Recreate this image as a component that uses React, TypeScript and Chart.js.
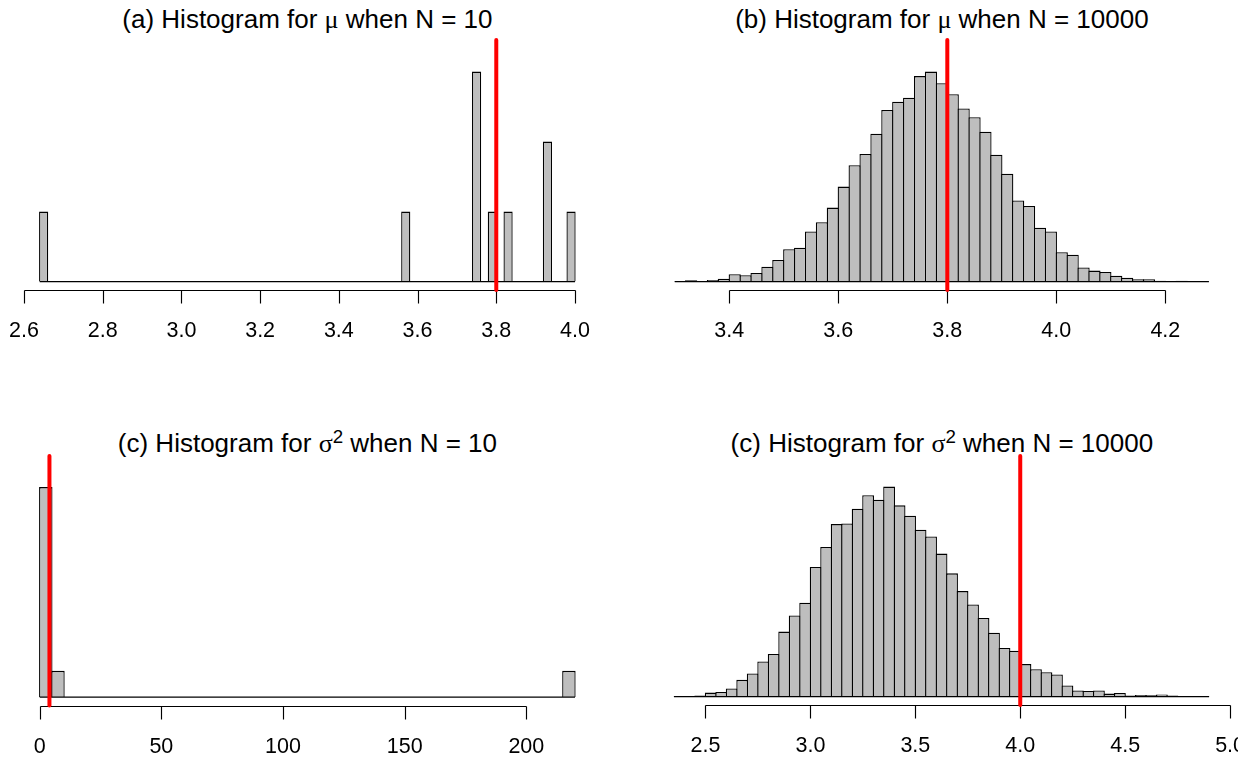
import React, { useEffect, useRef } from "react";
import { Chart, registerables } from "chart.js";

Chart.register(...registerables);

// ---------------- Data (counts) ----------------
// (a) mu, N = 10 : bins of width 0.02 starting at 2.64
const muN10BinStart = 2.64;
const muN10BinWidth = 0.02;
const muN10Counts = [
  1, 0, 0, 0, 0, 0, 0, 0, 0, 0, 0, 0, 0, 0, 0, 0, 0, 0, 0, 0, 0, 0, 0, 0, 0,
  0, 0, 0, 0, 0, 0, 0, 0, 0, 0, 0, 0, 0, 0, 0, 0, 0, 0, 0, 0, 0, 1, 0, 0, 0,
  0, 0, 0, 0, 0, 3, 0, 1, 0, 1, 0, 0, 0, 0, 2, 0, 0, 1,
];
const muN10Ticks = [2.6, 2.8, 3.0, 3.2, 3.4, 3.6, 3.8, 4.0];
const muN10TickLabels = ["2.6", "2.8", "3.0", "3.2", "3.4", "3.6", "3.8", "4.0"];
const muTrue = 3.8;

// (b) mu, N = 10000 : bins of width 0.02 starting at 3.30
const muN10000BinStart = 3.3;
const muN10000BinWidth = 0.02;
const muN10000Counts = [
  2, 4, 2, 5, 9, 23, 20, 27, 46, 67, 100, 105, 155, 184, 229, 294, 360, 395,
  458, 531, 557, 569, 636, 650, 614, 580, 536, 509, 464, 393, 334, 251, 234,
  167, 155, 91, 83, 44, 34, 30, 18, 12, 7, 7, 3, 2, 3, 1, 1,
];
const muN10000Ticks = [3.4, 3.6, 3.8, 4.0, 4.2];
const muN10000TickLabels = ["3.4", "3.6", "3.8", "4.0", "4.2"];

// (c) sigma^2, N = 10 : bins of width 5 starting at 0
const sigmaN10BinStart = 0;
const sigmaN10BinWidth = 5;
const sigmaN10Counts = [
  8, 1, 0, 0, 0, 0, 0, 0, 0, 0, 0, 0, 0, 0, 0, 0, 0, 0, 0, 0, 0, 0, 0, 0, 0,
  0, 0, 0, 0, 0, 0, 0, 0, 0, 0, 0, 0, 0, 0, 0, 0, 0, 0, 1,
];
const sigmaN10Ticks = [0, 50, 100, 150, 200];
const sigmaN10TickLabels = ["0", "50", "100", "150", "200"];
const sigmaTrue = 4;

// (d) sigma^2, N = 10000 : bins of width 0.05 starting at 2.35
const sigmaN10000BinStart = 2.35;
const sigmaN10000BinWidth = 0.05;
const sigmaN10000Counts = [
  2, 1, 3, 12, 14, 24, 50, 69, 105, 127, 194, 242, 280, 387, 447, 515, 517,
  561, 601, 588, 627, 571, 540, 498, 478, 427, 368, 315, 275, 235, 191, 145,
  137, 97, 82, 73, 66, 33, 18, 17, 18, 9, 11, 3, 5, 4, 6, 3, 2, 1, 1,
];
const sigmaN10000Ticks = [2.5, 3.0, 3.5, 4.0, 4.5, 5.0];
const sigmaN10000TickLabels = ["2.5", "3.0", "3.5", "4.0", "4.5", "5.0"];

// ---------------- Layout / style ----------------
const FONT = '"Liberation Sans", Arial, Helvetica, sans-serif';
const SYMBOL_FONT = '"Liberation Serif", "Times New Roman", serif';
const MAX_BAR_PX = 210;
const BORDER_W = 1.3;

type Rect = { left: number; top: number; width: number; height: number };
type Area = { left: number; right: number; top: number; bottom: number };

type Spec = {
  binStart: number;
  binWidth: number;
  counts: number[];
  ticks: number[];
  tickLabels: string[];
  trueValue: number;
  canvas: Rect;
  area: Area;
  labelClipRight?: number;
};

const rAxisPlugin = {
  id: "rAxis",
  beforeDatasetsDraw(chart: any, _args: any, opts: any) {
    const { ctx, chartArea, scales } = chart;
    const xs = scales.x;
    const ticks: number[] = opts.ticks;
    const labels: string[] = opts.labels;
    const y = Math.round(chartArea.bottom) + 0.5;
    ctx.save();
    ctx.strokeStyle = "#000";
    ctx.lineWidth = 1.15;
    ctx.beginPath();
    const p0 = Math.round(xs.getPixelForValue(ticks[0])) + 0.5;
    const p1 = Math.round(xs.getPixelForValue(ticks[ticks.length - 1])) + 0.5;
    ctx.moveTo(p0, y);
    ctx.lineTo(p1, y);
    for (const t of ticks) {
      const px = Math.round(xs.getPixelForValue(t)) + 0.5;
      ctx.moveTo(px, y);
      ctx.lineTo(px, y + 13);
    }
    ctx.stroke();
    if (opts.clipRight != null) {
      ctx.beginPath();
      ctx.rect(0, 0, opts.clipRight, chart.height);
      ctx.clip();
    }
    ctx.fillStyle = "#000";
    ctx.font = "21.5px " + FONT;
    ctx.textAlign = "center";
    ctx.textBaseline = "alphabetic";
    ticks.forEach((t, i) => {
      ctx.fillText(labels[i], xs.getPixelForValue(t), y + 46.5);
    });
    ctx.restore();
  },
};

function HistPanel({ spec }: { spec: Spec }) {
  const ref = useRef<HTMLCanvasElement | null>(null);

  useEffect(() => {
    const canvas = ref.current;
    if (!canvas) return;
    const { binStart, binWidth, counts, canvas: cv, area } = spec;
    const n = counts.length;
    const lo = binStart;
    const hi = binStart + n * binWidth;
    const xPad = 0.04 * (hi - lo);
    const xMin = lo - xPad;
    const xMax = hi + xPad;
    const maxCount = Math.max(...counts);
    const pxPerCount = MAX_BAR_PX / maxCount;
    const yMin = -0.04 * maxCount;
    const yMax = yMin + (area.bottom - area.top) / pxPerCount;

    const binPx = (binWidth * (area.right - area.left)) / (xMax - xMin);
    const barPct = (binPx + BORDER_W) / binPx;

    const barData = counts.map((c, i) => ({
      x: binStart + (i + 0.5) * binWidth,
      y: c,
    }));

    const chart = new Chart(canvas, {
      type: "bar",
      data: {
        datasets: [
          {
            type: "line",
            label: "true value",
            data: [
              { x: spec.trueValue, y: yMin },
              { x: spec.trueValue, y: yMax },
            ],
            borderColor: "#FF0000",
            borderWidth: 4,
            borderCapStyle: "round",
            pointRadius: 0,
            fill: false,
            clip: false,
            order: 0,
          } as any,
          {
            type: "line",
            label: "baseline",
            data: [
              { x: lo, y: 0 },
              { x: hi, y: 0 },
            ],
            borderColor: "#000",
            borderWidth: BORDER_W,
            pointRadius: 0,
            fill: false,
            clip: false,
            order: 1,
          } as any,
          {
            type: "bar",
            label: "counts",
            data: barData,
            backgroundColor: "#BEBEBE",
            borderColor: "#000",
            borderWidth: BORDER_W,
            borderSkipped: "start",
            barPercentage: barPct,
            categoryPercentage: 1,
            inflateAmount: 0,
            grouped: false,
            order: 2,
          } as any,
        ],
      },
      options: {
        animation: false,
        responsive: false,
        maintainAspectRatio: false,
        devicePixelRatio: 1,
        events: [],
        layout: {
          padding: {
            left: area.left - cv.left,
            right: cv.left + cv.width - area.right,
            top: area.top - cv.top,
            bottom: cv.top + cv.height - area.bottom,
          },
        },
        plugins: {
          legend: { display: false },
          tooltip: { enabled: false },
          title: { display: false },
          rAxis: {
            ticks: spec.ticks,
            labels: spec.tickLabels,
            clipRight:
              spec.labelClipRight != null ? spec.labelClipRight - cv.left : null,
          },
        } as any,
        scales: {
          x: { type: "linear", min: xMin, max: xMax, display: false, offset: false },
          y: { type: "linear", min: yMin, max: yMax, display: false },
        },
      },
      plugins: [rAxisPlugin],
    });
    return () => chart.destroy();
  }, [spec]);

  const { canvas: cv } = spec;
  return (
    <canvas
      ref={ref}
      width={cv.width}
      height={cv.height}
      style={{
        position: "absolute",
        left: cv.left,
        top: cv.top,
        width: cv.width,
        height: cv.height,
      }}
    />
  );
}

const panelA: Spec = {
  binStart: muN10BinStart,
  binWidth: muN10BinWidth,
  counts: muN10Counts,
  ticks: muN10Ticks,
  tickLabels: muN10TickLabels,
  trueValue: muTrue,
  canvas: { left: 0, top: 0, width: 620, height: 380 },
  area: { left: 18.3, right: 596.4, top: 40, bottom: 290 },
};
const panelB: Spec = {
  binStart: muN10000BinStart,
  binWidth: muN10000BinWidth,
  counts: muN10000Counts,
  ticks: muN10000Ticks,
  tickLabels: muN10000TickLabels,
  trueValue: muTrue,
  canvas: { left: 620, top: 0, width: 621, height: 380 },
  area: { left: 653.4, right: 1230.3, top: 40, bottom: 290 },
};
const panelC: Spec = {
  binStart: sigmaN10BinStart,
  binWidth: sigmaN10BinWidth,
  counts: sigmaN10Counts,
  ticks: sigmaN10Ticks,
  tickLabels: sigmaN10TickLabels,
  trueValue: sigmaTrue,
  canvas: { left: 0, top: 380, width: 620, height: 381 },
  area: { left: 18.3, right: 596.4, top: 456, bottom: 705.5 },
};
const panelD: Spec = {
  binStart: sigmaN10000BinStart,
  binWidth: sigmaN10000BinWidth,
  counts: sigmaN10000Counts,
  ticks: sigmaN10000Ticks,
  tickLabels: sigmaN10000TickLabels,
  trueValue: sigmaTrue,
  canvas: { left: 620, top: 380, width: 621, height: 381 },
  area: { left: 652.6, right: 1230.5, top: 456, bottom: 705 },
  labelClipRight: 1238,
};

function Title({
  center,
  baseline,
  children,
}: {
  center: number;
  baseline: number;
  children: React.ReactNode;
}) {
  return (
    <div
      style={{
        position: "absolute",
        left: center - 320,
        width: 640,
        top: baseline - 22,
        height: 26,
        lineHeight: "26px",
        fontSize: 26,
        fontFamily: FONT,
        textAlign: "center",
        color: "#000",
        whiteSpace: "nowrap",
      }}
    >
      {children}
    </div>
  );
}

const sym: React.CSSProperties = { fontFamily: SYMBOL_FONT };
const sup: React.CSSProperties = {
  fontSize: "0.72em",
  position: "relative",
  top: "-0.5em",
  lineHeight: 0,
  verticalAlign: "baseline",
};

export default function App() {
  return (
    <div
      style={{
        position: "absolute",
        left: 0,
        top: 0,
        width: 1241,
        height: 761,
        overflow: "hidden",
        background: "#fff",
      }}
    >
      <Title center={307.4} baseline={28.3}>
        (a) Histogram for <span style={sym}>μ</span> when N = 10
      </Title>
      <Title center={941.9} baseline={28.3}>
        (b) Histogram for <span style={sym}>μ</span> when N = 10000
      </Title>
      <Title center={307.4} baseline={452}>
        (c) Histogram for <span style={sym}>σ</span>
        <span style={sup}>2</span> when N = 10
      </Title>
      <Title center={941.9} baseline={452}>
        (c) Histogram for <span style={sym}>σ</span>
        <span style={sup}>2</span> when N = 10000
      </Title>
      <HistPanel spec={panelA} />
      <HistPanel spec={panelB} />
      <HistPanel spec={panelC} />
      <HistPanel spec={panelD} />
    </div>
  );
}
